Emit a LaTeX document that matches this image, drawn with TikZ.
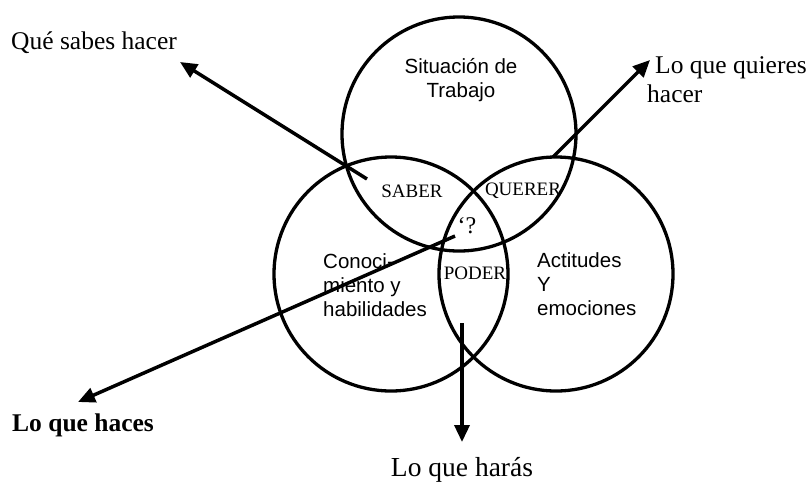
\documentclass[tikz,border=0pt]{standalone}
\usepackage{fontspec}
\setmainfont{Liberation Serif}
\setsansfont{Liberation Sans}
\usetikzlibrary{arrows.meta}
\begin{document}
\begin{tikzpicture}[x=1pt,y=-1pt,
  ring/.style={draw=black,line width=3.3pt},
  arr/.style={line width=3.5pt,-{Triangle[length=17pt,width=15pt]}},
  serifbig/.style={inner sep=0pt,font=\fontsize{25.5}{30}\selectfont},
  sanslbl/.style={inner sep=0pt,font=\sffamily\fontsize{20.5}{24}\selectfont},
  seriflbl/.style={inner sep=0pt,font=\fontsize{19}{22}\selectfont}]
\useasboundingbox (0,0) rectangle (810,483);
% circles
\node[ring,circle,minimum size=234pt,inner sep=0pt] (ctop) at (459,134) {};
\node[ring,circle,minimum size=234pt,inner sep=0pt] (cleft) at (391,274) {};
\node[ring,circle,minimum size=234pt,inner sep=0pt] (cright) at (556,274) {};
% circle texts
\node[sanslbl,align=center] (sit) at (461,80) {Situación de\\Trabajo};
\node[sanslbl,align=left,anchor=west] (cono) at (323,285) {Conoci-\\miento y\\habilidades};
\node[sanslbl,align=left,anchor=west] (acti) at (537,284) {Actitudes\\Y\\emociones};
\node[seriflbl] (saber) at (412,191) {SABER};
\node[seriflbl] (querer) at (523,191) {QUERER};
\node[seriflbl] (poder) at (475,273) {PODER};
\node[inner sep=0pt,font=\fontsize{24}{28}\selectfont] (q) at (467,226) {‘?};
% outside labels
\node[serifbig,anchor=base west] (sabes) at (11,49) {Qué sabes hacer};
\node[serifbig,anchor=base west,font=\bfseries\fontsize{25.5}{30}\selectfont] (haces) at (12,431) {Lo que haces};
\node[serifbig,anchor=base west] (quieres1) at (655,73) {Lo que quieres};
\node[serifbig,anchor=base west] (quieres2) at (647,102) {hacer};
\node[serifbig,anchor=base,font=\fontsize{27.5}{32}\selectfont] (haras) at (462,476) {Lo que harás};
% arrow anchor coordinates
\coordinate (a1s) at (367,179);
\coordinate (a1e) at (180,62);
\coordinate (a2s) at (455,236);
\coordinate (a2e) at (78,402);
\coordinate (a3s) at (553,157);
\coordinate (a3e) at (650,60);
\coordinate (a4s) at (462,323);
\coordinate (a4e) at (462,442);
\draw[arr] (a1s) -- (a1e);
\draw[arr] (a2s) -- (a2e);
\draw[arr] (a3s) -- (a3e);
\draw[arr] (a4s) -- (a4e);
\end{tikzpicture}
\end{document}
